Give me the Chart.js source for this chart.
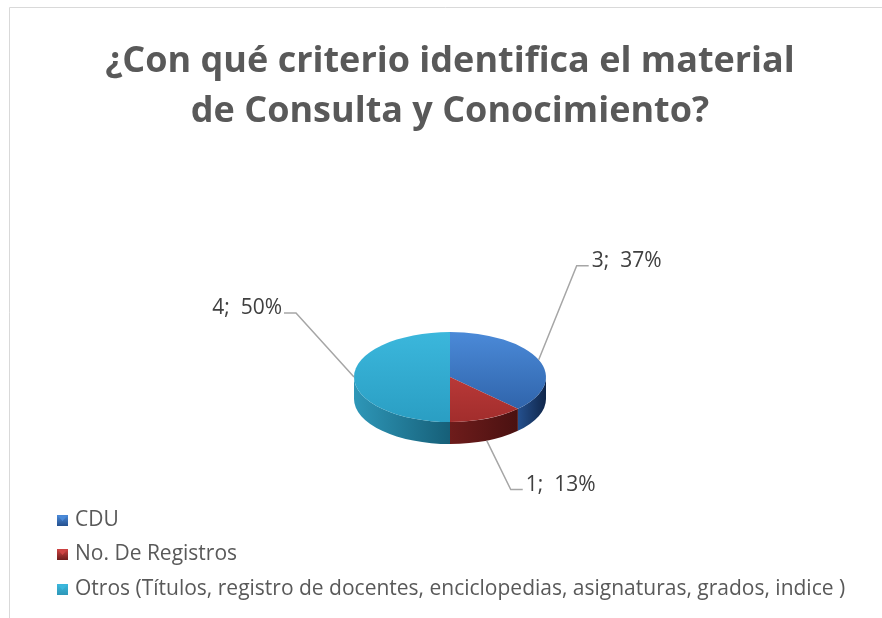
<!DOCTYPE html>
<html>
<head>
<meta charset="utf-8">
<script src="https://cdn.jsdelivr.net/npm/chart.js@4/dist/chart.umd.min.js"></script>
<style>
  html, body { margin: 0; padding: 0; background: #fff; }
  canvas { display: block; }
</style>
</head>
<body>
<canvas id="criterioChart" width="882" height="618"></canvas>
<script>
const labels = [
    'CDU',
    'No. De Registros',
    'Otros (Títulos, registro de docentes, enciclopedias, asignaturas, grados, indice )'
];
const counts = [3, 1, 4];
const percents = [37, 13, 50];

const titleLines = ['¿Con qué criterio identifica el material', 'de Consulta y Conocimiento?'];

// top face / side colours per slice
const topColors = [['#4b8ad8', '#2b5ea4'], ['#cf4443', '#a22d2c'], ['#3bb7dc', '#2a9ec3']];
const sideColors = [['#24508e', '#10264a'], ['#6e1c1b', '#4a1111'], ['#2e97b8', '#165f78']];

const depth = 22;
const squash = 45 / 96;

const ctx = document.getElementById('criterioChart').getContext('2d');

const pie3d = {
    id: 'pie3d',
    beforeDatasetsDraw(chart) {
        const c = chart.ctx;
        const meta = chart.getDatasetMeta(0);
        const first = meta.data[0].getProps(['x', 'y', 'outerRadius'], true);
        const x = first.x, y = first.y, rx = first.outerRadius, ry = rx * squash;
        meta.data.forEach((arc, i) => {
            const p = arc.getProps(['startAngle', 'endAngle'], true);
            const s = Math.max(p.startAngle, 0);
            const e = Math.min(p.endAngle, Math.PI);
            if (e <= s) return;
            const xa = x + rx * Math.cos(e), xb = x + rx * Math.cos(s);
            const g = c.createLinearGradient(xa, 0, xb, 0);
            g.addColorStop(0, sideColors[i][0]);
            g.addColorStop(1, sideColors[i][1]);
            c.beginPath();
            c.ellipse(x, y, rx, ry, 0, s, e);
            c.ellipse(x, y + depth, rx, ry, 0, e, s, true);
            c.closePath();
            c.fillStyle = g;
            c.fill();
        });
        c.save();
        c.translate(x, y);
        c.scale(1, squash);
        c.translate(-x, -y);
    },
    afterDatasetsDraw(chart) {
        const c = chart.ctx;
        c.restore();
        const meta = chart.getDatasetMeta(0);
        const elbows = [[38, -94], [24, 49], [-58, -64]];
        c.font = '21px "Open Sans"';
        c.fillStyle = '#404040';
        c.textBaseline = 'middle';
        meta.data.forEach((arc, i) => {
            const p = arc.getProps(['x', 'y', 'startAngle', 'endAngle', 'outerRadius'], true);
            const m = (p.startAngle + p.endAngle) / 2;
            const rx = p.outerRadius, ry = rx * squash;
            const sx = p.x + rx * Math.cos(m);
            const sy = p.y + ry * Math.sin(m) + (Math.sin(m) > 0.3 ? depth : 0);
            const ex = sx + elbows[i][0], ey = sy + elbows[i][1];
            const right = elbows[i][0] >= 0;
            const hx = ex + (right ? 12 : -12);
            c.beginPath();
            c.moveTo(sx, sy);
            c.lineTo(ex, ey);
            c.lineTo(hx, ey);
            c.strokeStyle = '#a6a6a6';
            c.lineWidth = 1.5;
            c.stroke();
            c.textAlign = right ? 'left' : 'right';
            c.fillText(counts[i] + ';  ' + percents[i] + '%', hx + (right ? 3 : -2), ey - 5);
        });
    },
    afterDraw(chart) {
        const c = chart.ctx;
        // frame
        c.strokeStyle = '#d9d9d9';
        c.lineWidth = 1;
        c.beginPath();
        c.moveTo(9.5, 618);
        c.lineTo(9.5, 7.5);
        c.lineTo(882, 7.5);
        c.stroke();
        // legend
        const rows = [520, 554, 589];
        c.font = '21px "Open Sans"';
        c.textAlign = 'left';
        c.textBaseline = 'middle';
        labels.forEach((lab, i) => {
            const bx = 57, by = rows[i] - 5;
            const g = c.createLinearGradient(bx, by, bx, by + 11);
            g.addColorStop(0, topColors[i][0]);
            g.addColorStop(1, sideColors[i][0]);
            c.fillStyle = g;
            c.fillRect(bx, by, 11, 11);
            c.fillStyle = topColors[i][0];
            c.beginPath();
            c.moveTo(bx + 1, by + 1);
            c.lineTo(bx + 10, by + 1);
            c.lineTo(bx + 5.5, by + 6);
            c.closePath();
            c.fill();
            c.fillStyle = '#595959';
            c.fillText(lab, 75, rows[i]);
        });
    }
};

const data = {
    labels: labels,
    datasets: [{
        data: counts,
        borderWidth: 0,
        backgroundColor: (context) => {
            const chart = context.chart;
            const area = chart.chartArea;
            const i = context.dataIndex;
            if (!area) return topColors[i][0];
            const cy = (area.top + area.bottom) / 2;
            const g = chart.ctx.createLinearGradient(0, cy - 96, 0, cy + 96);
            g.addColorStop(0, topColors[i][0]);
            g.addColorStop(1, topColors[i][1]);
            return g;
        }
    }]
};

const config = {
    type: 'pie',
    data: data,
    options: {
        responsive: false,
        animation: false,
        events: [],
        radius: 96,
        layout: {
            padding: { left: 18, right: 0, top: 0, bottom: 11 }
        },
        plugins: {
            legend: { display: false },
            tooltip: { enabled: false },
            title: {
                display: true,
                text: titleLines,
                color: '#595959',
                font: { family: 'Open Sans', size: 36, weight: 'bold', lineHeight: 1.39 },
                padding: { top: 37, bottom: 10 }
            }
        }
    },
    plugins: [pie3d]
};

const myChart = new Chart(ctx, config);
</script>
</body>
</html>
